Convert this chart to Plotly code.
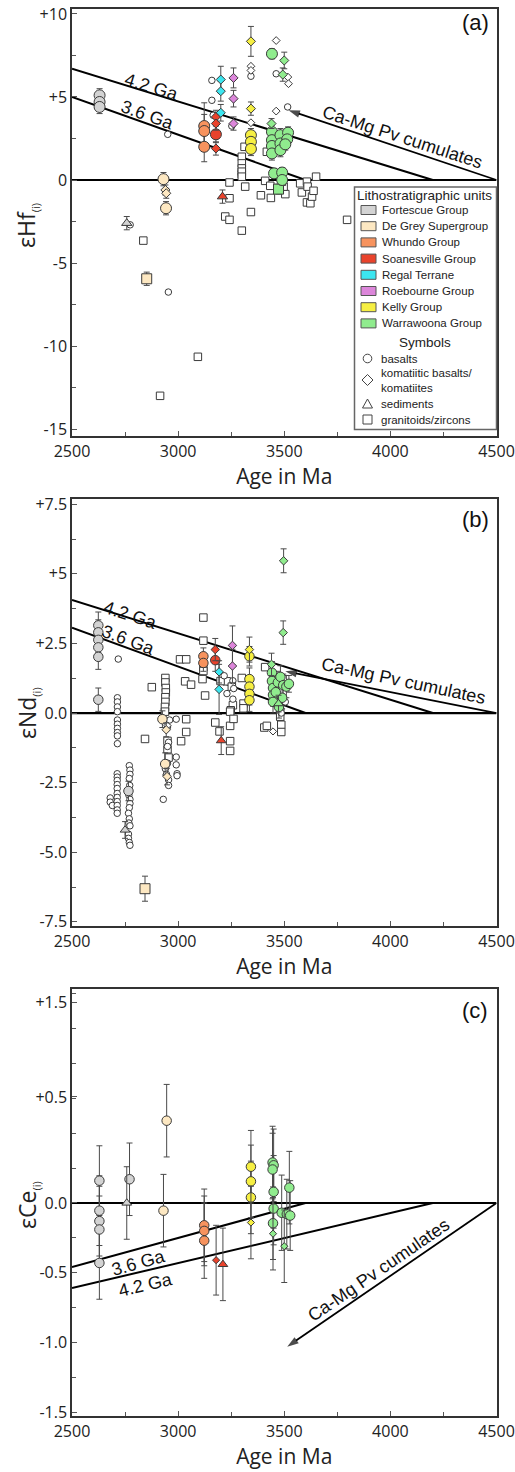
import plotly.graph_objects as go

W, H = 515, 1472

# ---------------- axis ticks ----------------
AGE_TICKS = [2500, 3000, 3500, 4000, 4500]
AGE_TICK_TEXT = ["2500", "3000", "3500", "4000", "4500"]
HF_TICKS = [10, 5, 0, -5, -10, -15]
HF_TICK_TEXT = ["+10", "+5", "0", "-5", "-10", "-15"]
ND_TICKS = [7.5, 5, 2.5, 0, -2.5, -5, -7.5]
ND_TICK_TEXT = ["+7.5", "+5", "+2.5", "0.0", "-2.5", "-5.0", "-7.5"]
CE_TICKS = [1.44, 0.76, 0, -0.5, -1.0, -1.5]
CE_TICK_TEXT = ["+1.5", "+0.5", "0.0", "-0.5", "-1.0", "-1.5"]

# ---------------- legend categories ----------------
UNITS = ["Fortescue Group", "De Grey Supergroup", "Whundo Group", "Soanesville Group",
         "Regal Terrane", "Roebourne Group", "Kelly Group", "Warrawoona Group"]
UNIT_COLORS = ["#d3d3d3", "#fde8c2", "#f7935e", "#e9432c", "#3ce6f0", "#dc86da", "#f6ef42", "#90ec8e"]
ROCK_TYPES = ["basalts", "komatiitic basalts/<br>komatiites", "sediments", "granitoids/zircons"]
ROCK_SYMBOLS = ["circle", "diamond", "triangle-up", "square"]

# ---------------- reference lines (age Ma, epsilon) ----------------
HF_LINE_42 = [(2500, 6.7), (4200, 0.0)]
HF_LINE_36 = [(2500, 5.0), (3600, 0.0)]
HF_PV_ARROW = [(4500, 0.0), (3520, 4.2)]
ND_LINE_42 = [(2500, 4.06), (4200, 0.0)]
ND_LINE_36 = [(2500, 3.07), (3600, 0.0)]
ND_PV_ARROW = [(4500, 0.0), (3505, 1.5)]
CE_LINE_36 = [(2500, -0.46), (3600, 0.0)]
CE_LINE_42 = [(2500, -0.61), (4200, 0.0)]
CE_PV_ARROW = [(4500, 0.0), (3514, -1.03)]
ZERO_LINE = [(2500, 0.0), (4500, 0.0)]

# ---------------- panel (a): eHf(i)  (age, value[, error]) ----------------
HF_OPEN_BASALT = [(2774, -2.7), (2951, 2.75), (2954, -6.75), (3159, 6.0), (3159, 4.8),
                  (3165, 3.9), (3253, 3.25), (3343, 6.25), (3462, 6.4), (3516, 4.4)]
HF_OPEN_KOMATIITE = [(3343, 6.85), (3343, 6.6), (3343, 3.45), (3462, 8.4), (3517, 6.2),
                     (3520, 5.8), (3462, 4.15)]
HF_OPEN_GRANITOID = [(2836, -3.65), (2915, -13.0), (3093, -10.65), (3222, -2.2), (3242, -2.4),
                     (3242, -1.1), (3300, -3.05), (3343, -1.93), (3242, -0.15), (3300, 1.4),
                     (3300, 1.0), (3300, 0.7), (3300, 0.35), (3300, 0.5), (3300, 0.2),
                     (3316, -0.4), (3313, 2.0), (3418, 1.7), (3390, -0.92), (3437, -1.08),
                     (3410, -0.05), (3434, -0.35), (3505, -0.85), (3497, -0.4), (3575, -0.2),
                     (3583, -0.75), (3607, -0.1), (3610, -0.4), (3607, -1.35), (3623, -1.4),
                     (3631, -1.0), (3638, -0.65), (3650, 0.2), (3796, -2.4), (3489, -0.1)]
HF_FORTESCUE_BASALT = [(2630, 5.1, 0.4), (2630, 4.7, 0.4), (2630, 4.4, 0.4)]
HF_FORTESCUE_SEDIMENT = [(2758, -2.6, 0.4)]
HF_DEGREY_BASALT = [(2931, 0.05, 0.4), (2943, -1.7, 0.4)]
HF_DEGREY_KOMATIITE = [(2940, -0.6, 0.3), (2944, -0.8, 0.3)]
HF_DEGREY_GRANITOID = [(2852, -5.95, 0.4)]
HF_WHUNDO_BASALT = [(3123, 3.25, 1.4), (3123, 2.95, 1.0), (3123, 2.0, 0.9)]
HF_SOANESVILLE_BASALT = [(3178, 2.75, 0.5)]
HF_SOANESVILLE_KOMATIITE = [(3178, 3.8, 0.4), (3178, 3.4, 0.4), (3178, 1.9, 0.4)]
HF_SOANESVILLE_SEDIMENT = [(3209, -1.0, 0.4)]
HF_REGAL_KOMATIITE = [(3201, 6.05, 0.8), (3201, 5.35, 0.6), (3201, 4.05, 0.5)]
HF_ROEBOURNE_KOMATIITE = [(3261, 6.15, 0.6), (3261, 4.9, 0.5), (3261, 3.4, 0.4)]
HF_KELLY_BASALT = [(3343, 2.7, 0.4), (3343, 2.3, 0.4), (3343, 1.87, 0.4)]
HF_KELLY_KOMATIITE = [(3343, 8.35, 0.9), (3343, 4.3, 0.4)]
HF_WARRAWOONA_BASALT = [(3442, 7.6, 0.3), (3442, 2.9, 0.4), (3442, 2.4, 0.4), (3442, 2.05, 0.4),
                        (3442, 1.6, 0.4), (3482, 2.7, 0.4), (3482, 2.2, 0.4), (3482, 1.8, 0.4),
                        (3518, 2.85, 0.35), (3514, 2.45, 0.35), (3505, 2.15, 0.35),
                        (3452, 0.4, 0.3), (3490, 0.45, 0.3), (3490, 0.0, 0.3)]
HF_WARRAWOONA_KOMATIITE = [(3500, 7.2, 0.5), (3493, 6.35, 0.4), (3440, 3.4, 0.3)]
HF_WARRAWOONA_GRANITOID = [(3473, -0.55, 0.3)]

# ---------------- panel (b): eNd(i) ----------------
ND_OPEN_BASALT = [(2718, 1.94), (2714, 0.55), (2714, 0.4), (2714, 0.22), (2714, 0.05), (2714, -0.25),
                  (2714, -0.4), (2714, -0.55), (2714, -0.7), (2714, -0.82), (2714, -1.1),
                  (2680, -3.05), (2680, -3.2), (2690, -3.32),
                  (2713, -2.18), (2713, -2.3), (2713, -2.42), (2713, -2.57), (2713, -2.71),
                  (2713, -2.89), (2713, -3.03), (2713, -3.18), (2713, -3.32), (2713, -3.48),
                  (2713, -3.6), (2770, -1.89), (2773, -2.05), (2773, -2.2), (2770, -2.35),
                  (2772, -2.6), (2768, -2.95), (2773, -3.1), (2773, -3.25), (2770, -3.4),
                  (2766, -3.6), (2770, -3.8), (2768, -3.95), (2773, -4.05), (2766, -4.35),
                  (2766, -4.5), (2770, -4.65), (2773, -4.75),
                  (2950, -0.5), (2955, -1.05), (2950, -1.2), (2950, -1.8), (2940, -2.0),
                  (2945, -2.2), (2955, -2.4), (2955, -2.6), (2930, -3.1),
                  (2991, -1.58), (2991, -1.86), (2995, -2.18), (2995, -2.25), (2991, -0.22),
                  (2960, -0.25), (3217, 1.34), (3258, 1.16), (3262, 0.88), (3230, 0.7),
                  (3258, 0.5), (3486, 0.0), (3505, 0.4)]
ND_OPEN_KOMATIITE = [(3447, -0.66), (2950, -0.45)]
ND_OPEN_GRANITOID = [(2844, -0.93), (2876, 0.93), (2940, 1.26), (2940, 1.1), (2942, 0.9),
                     (2942, 0.74), (2940, 0.57), (2940, 0.4), (2938, 0.22), (2938, 0.05),
                     (2950, -1.0), (2950, -1.3), (2955, -1.6), (3009, 1.93), (3038, 1.93),
                     (3033, 1.14), (3061, 1.02), (3038, -0.22), (3038, -0.68), (3014, -1.01),
                     (3119, 3.43), (3119, 2.6), (3119, 1.65), (3119, 1.51), (3115, 1.22),
                     (3127, 0.63), (3175, -0.34), (3195, -0.66), (3229, 1.14), (3253, 0.95),
                     (3258, 0.28), (3248, 0.1), (3245, 0.05), (3245, -0.46), (3245, -1.01),
                     (3245, -1.36), (3261, -0.21), (3300, 1.26), (3308, 0.34), (3308, 0.17),
                     (3410, 1.65), (3406, -0.52), (3418, -0.46), (3481, 0.05), (3481, -0.13),
                     (3486, -0.42), (3486, -0.68), (3200, 1.15)]
ND_FORTESCUE_BASALT = [(2624, 3.15, 0.48), (2624, 2.9, 0.45), (2624, 2.63, 0.45), (2624, 2.36, 0.45),
                       (2624, 2.02, 0.45), (2624, 0.48, 0.42), (2766, -2.8, 0.35)]
ND_FORTESCUE_SEDIMENT = [(2750, -4.2, 0.3)]
ND_DEGREY_BASALT = [(2926, -0.22, 0.3), (2939, -1.83, 0.4)]
ND_DEGREY_KOMATIITE = [(2944, -0.6, 0.25), (2948, -2.28, 0.3)]
ND_DEGREY_GRANITOID = [(2844, -6.31, 0.45)]
ND_WHUNDO_BASALT = [(3119, 2.04, 0.3), (3119, 1.8, 0.3)]
ND_SOANESVILLE_BASALT = [(3175, 1.9, 0.4)]
ND_SOANESVILLE_KOMATIITE = [(3175, 2.28, 0.4)]
ND_SOANESVILLE_SEDIMENT = [(3203, -0.99, 0.5)]
ND_REGAL_KOMATIITE = [(3193, 1.48, 0.4), (3193, 0.85, 0.9)]
ND_ROEBOURNE_KOMATIITE = [(3256, 2.43, 0.7), (3256, 1.69, 0.6)]
ND_KELLY_BASALT = [(3336, 2.04, 0.35), (3336, 1.22, 0.4), (3336, 0.95, 0.4), (3336, 0.69, 0.4),
                   (3336, 0.46, 0.4)]
ND_KELLY_KOMATIITE = [(3336, 2.28, 0.45)]
ND_WARRAWOONA_BASALT = [(3442, 1.45, 0.4), (3442, 1.15, 0.4), (3447, 0.9, 0.4), (3447, 0.65, 0.4),
                        (3447, 0.4, 0.4), (3470, 1.1, 0.4), (3482, 1.3, 0.4), (3495, 1.0, 0.4),
                        (3510, 0.95, 0.4), (3522, 1.05, 0.3), (3490, 0.55, 0.4), (3475, 0.22, 0.4),
                        (3460, 0.75, 0.4)]
ND_WARRAWOONA_KOMATIITE = [(3497, 5.47, 0.43), (3495, 2.89, 0.42), (3440, 1.75, 0.4)]
ND_WARRAWOONA_SEDIMENT = [(3473, 0.34, 0.3)]

# ---------------- panel (c): eCe(i) ----------------
CE_FORTESCUE_BASALT = [(2629, 0.16, 0.25), (2629, -0.055, 0.25), (2629, -0.13, 0.25),
                       (2629, -0.19, 0.24), (2629, -0.43, 0.26), (2771, 0.17, 0.26)]
CE_FORTESCUE_SEDIMENT = [(2758, 0.0, 0.26)]
CE_DEGREY_BASALT = [(2946, 0.59, 0.26), (2931, -0.055, 0.26)]
CE_WHUNDO_BASALT = [(3123, -0.16, 0.26), (3123, -0.2, 0.25), (3123, -0.27, 0.27)]
CE_SOANESVILLE_KOMATIITE = [(3179, -0.41, 0.25)]
CE_SOANESVILLE_SEDIMENT = [(3211, -0.44, 0.26)]
CE_KELLY_BASALT = [(3343, 0.26, 0.26), (3343, 0.155, 0.26), (3343, 0.04, 0.26)]
CE_KELLY_KOMATIITE = [(3343, -0.14, 0.26)]
CE_WARRAWOONA_BASALT = [(3445, 0.29, 0.26), (3450, 0.27, 0.26), (3445, 0.24, 0.26), (3450, 0.08, 0.26),
                        (3450, -0.04, 0.26), (3447, -0.145, 0.26), (3488, -0.07, 0.27),
                        (3512, -0.08, 0.25), (3528, -0.09, 0.25), (3524, 0.11, 0.26)]
CE_WARRAWOONA_KOMATIITE = [(3447, -0.22, 0.26), (3500, -0.31, 0.26)]

# ================= figure =================
XDOM = [72 / W, 496.5 / W]
YDOM = {"a": [1 - 436 / H, 1 - 9 / H], "b": [1 - 926 / H, 1 - 499 / H], "c": [1 - 1416 / H, 1 - 989 / H]}
AX = {"a": ("x", "y"), "b": ("x2", "y2"), "c": ("x3", "y3")}
SIZES = {
    "a": {"circle": 11, "diamond": 7, "triangle-up": 9, "square": 10, "o_circle": 6.5, "o_diamond": 6, "o_square": 7.5},
    "b": {"circle": 9.5, "diamond": 6.5, "triangle-up": 8.5, "square": 10, "o_circle": 6.5, "o_diamond": 5.5, "o_square": 7.5},
    "c": {"circle": 9.5, "diamond": 5.5, "triangle-up": 8.5, "square": 9, "o_circle": 6, "o_diamond": 5, "o_square": 7},
}
OUTLINE = "#3a3a3a"
ERRC = "#4a4a4a"

fig = go.Figure()


def add_line(panel, pts, width=2):
    xa, ya = AX[panel]
    fig.add_trace(go.Scatter(x=[p[0] for p in pts], y=[p[1] for p in pts], mode="lines",
                             line=dict(color="black", width=width), xaxis=xa, yaxis=ya,
                             showlegend=False, hoverinfo="skip"))


def add_arrow(panel, pts):
    xa, ya = AX[panel]
    fig.add_trace(go.Scatter(x=[p[0] for p in pts], y=[p[1] for p in pts], mode="lines+markers",
                             line=dict(color="black", width=1.8),
                             marker=dict(symbol="arrow", size=[0, 12], angleref="previous", color="black",
                                         line=dict(width=0)),
                             xaxis=xa, yaxis=ya, showlegend=False, hoverinfo="skip"))


def add_open(panel, data, symbol):
    xa, ya = AX[panel]
    fig.add_trace(go.Scatter(x=[d[0] for d in data], y=[d[1] for d in data], mode="markers",
                             marker=dict(symbol=symbol, size=SIZES[panel]["o_" + symbol.split("-")[0]],
                                         color="white", line=dict(color=OUTLINE, width=1)),
                             xaxis=xa, yaxis=ya, showlegend=False))


def add_unit(panel, data, unit, symbol):
    xa, ya = AX[panel]
    color = UNIT_COLORS[UNITS.index(unit)]
    fig.add_trace(go.Scatter(x=[d[0] for d in data], y=[d[1] for d in data], mode="markers",
                             name=unit,
                             error_y=dict(type="data", array=[d[2] for d in data], color=ERRC,
                                          thickness=1, width=3),
                             marker=dict(symbol=symbol, size=SIZES[panel][symbol], color=color,
                                         line=dict(color=OUTLINE, width=1)),
                             xaxis=xa, yaxis=ya, showlegend=False))


for p, l42, l36, arr in (("a", HF_LINE_42, HF_LINE_36, HF_PV_ARROW), ("b", ND_LINE_42, ND_LINE_36, ND_PV_ARROW),
                         ("c", CE_LINE_42, CE_LINE_36, CE_PV_ARROW)):
    add_line(p, ZERO_LINE, 2.2)
    add_line(p, l42, 2)
    add_line(p, l36, 2)
    add_arrow(p, arr)

# open symbols
add_open("a", HF_OPEN_GRANITOID, "square")
add_open("a", HF_OPEN_BASALT, "circle")
add_open("a", HF_OPEN_KOMATIITE, "diamond")
add_open("b", ND_OPEN_GRANITOID, "square")
add_open("b", ND_OPEN_BASALT, "circle")
add_open("b", ND_OPEN_KOMATIITE, "diamond")

# coloured symbols
SERIES = [
    ("a", HF_FORTESCUE_BASALT, "Fortescue Group", "circle"),
    ("a", HF_FORTESCUE_SEDIMENT, "Fortescue Group", "triangle-up"),
    ("a", HF_DEGREY_GRANITOID, "De Grey Supergroup", "square"),
    ("a", HF_DEGREY_BASALT, "De Grey Supergroup", "circle"),
    ("a", HF_DEGREY_KOMATIITE, "De Grey Supergroup", "diamond"),
    ("a", HF_WHUNDO_BASALT, "Whundo Group", "circle"),
    ("a", HF_SOANESVILLE_BASALT, "Soanesville Group", "circle"),
    ("a", HF_SOANESVILLE_KOMATIITE, "Soanesville Group", "diamond"),
    ("a", HF_SOANESVILLE_SEDIMENT, "Soanesville Group", "triangle-up"),
    ("a", HF_REGAL_KOMATIITE, "Regal Terrane", "diamond"),
    ("a", HF_ROEBOURNE_KOMATIITE, "Roebourne Group", "diamond"),
    ("a", HF_KELLY_BASALT, "Kelly Group", "circle"),
    ("a", HF_KELLY_KOMATIITE, "Kelly Group", "diamond"),
    ("a", HF_WARRAWOONA_GRANITOID, "Warrawoona Group", "square"),
    ("a", HF_WARRAWOONA_BASALT, "Warrawoona Group", "circle"),
    ("a", HF_WARRAWOONA_KOMATIITE, "Warrawoona Group", "diamond"),
    ("b", ND_FORTESCUE_BASALT, "Fortescue Group", "circle"),
    ("b", ND_FORTESCUE_SEDIMENT, "Fortescue Group", "triangle-up"),
    ("b", ND_DEGREY_GRANITOID, "De Grey Supergroup", "square"),
    ("b", ND_DEGREY_BASALT, "De Grey Supergroup", "circle"),
    ("b", ND_DEGREY_KOMATIITE, "De Grey Supergroup", "diamond"),
    ("b", ND_WHUNDO_BASALT, "Whundo Group", "circle"),
    ("b", ND_SOANESVILLE_BASALT, "Soanesville Group", "circle"),
    ("b", ND_SOANESVILLE_KOMATIITE, "Soanesville Group", "diamond"),
    ("b", ND_SOANESVILLE_SEDIMENT, "Soanesville Group", "triangle-up"),
    ("b", ND_REGAL_KOMATIITE, "Regal Terrane", "diamond"),
    ("b", ND_ROEBOURNE_KOMATIITE, "Roebourne Group", "diamond"),
    ("b", ND_KELLY_BASALT, "Kelly Group", "circle"),
    ("b", ND_KELLY_KOMATIITE, "Kelly Group", "diamond"),
    ("b", ND_WARRAWOONA_BASALT, "Warrawoona Group", "circle"),
    ("b", ND_WARRAWOONA_KOMATIITE, "Warrawoona Group", "diamond"),
    ("b", ND_WARRAWOONA_SEDIMENT, "Warrawoona Group", "triangle-up"),
    ("c", CE_FORTESCUE_BASALT, "Fortescue Group", "circle"),
    ("c", CE_FORTESCUE_SEDIMENT, "Fortescue Group", "triangle-up"),
    ("c", CE_DEGREY_BASALT, "De Grey Supergroup", "circle"),
    ("c", CE_WHUNDO_BASALT, "Whundo Group", "circle"),
    ("c", CE_SOANESVILLE_KOMATIITE, "Soanesville Group", "diamond"),
    ("c", CE_SOANESVILLE_SEDIMENT, "Soanesville Group", "triangle-up"),
    ("c", CE_KELLY_BASALT, "Kelly Group", "circle"),
    ("c", CE_KELLY_KOMATIITE, "Kelly Group", "diamond"),
    ("c", CE_WARRAWOONA_BASALT, "Warrawoona Group", "circle"),
    ("c", CE_WARRAWOONA_KOMATIITE, "Warrawoona Group", "diamond"),
]
for panel, data, unit, sym in SERIES:
    add_unit(panel, data, unit, sym)

# ---------------- axes ----------------
TICKFONT = dict(family="Open Sans", size=16, color="#222")
frame = dict(showline=True, linecolor="#333", linewidth=1.5, mirror=True, showgrid=False,
             zeroline=False, ticks="inside", ticklen=5, tickcolor="#555", tickfont=TICKFONT,
             automargin=False)
YRANGE = {"a": [-15.42, 10.3], "b": [-7.65, 7.69], "c": [-1.527, 1.534]}
YTICKS = {"a": (HF_TICKS, HF_TICK_TEXT, 2.5), "b": (ND_TICKS, ND_TICK_TEXT, 1.25), "c": (CE_TICKS, CE_TICK_TEXT, 0.25)}
for i, p in enumerate(["a", "b", "c"]):
    sfx = "" if i == 0 else str(i + 1)
    fig.layout["xaxis" + sfx] = dict(frame, domain=XDOM, range=[2500, 4500], anchor="y" + sfx,
                                     tickmode="array", tickvals=AGE_TICKS, ticktext=AGE_TICK_TEXT,
                                     minor=dict(ticks="inside", dtick=250, tick0=2500, ticklen=4, tickcolor="#555"),
                                     title=dict(text="Age in Ma", font=dict(family="Open Sans", size=21, color="#222"),
                                                standoff=4))
    tv, tt, mdt = YTICKS[p]
    fig.layout["yaxis" + sfx] = dict(frame, domain=YDOM[p], range=YRANGE[p], anchor="x" + sfx,
                                     tickmode="array", tickvals=tv, ticktext=tt,
                                     minor=dict(ticks="inside", dtick=mdt, tick0=0, ticklen=4, tickcolor="#555"))

ann = []
TXT = dict(family="Liberation Sans, Arial", size=18, color="#111")
SUB = "<sub><span style='font-size:11px'>(i)</span></sub>"
# y-axis titles
for ytxt, pyc in (("εHf" + SUB, 226), ("εNd" + SUB, 713), ("εCe" + SUB, 1205)):
    ann.append(dict(text=ytxt, x=27 / W, y=1 - pyc / H, xref="paper", yref="paper", textangle=-90,
                    showarrow=False, xanchor="center", yanchor="middle",
                    font=dict(family="Open Sans", size=23, color="#222")))
# panel labels
for lab, xa, ya, yy in (("(a)", "x", "y", 9.5), ("(b)", "x2", "y2", 6.94), ("(c)", "x3", "y3", 1.38)):
    ann.append(dict(text=lab, x=4400, y=yy, xref=xa, yref=ya, showarrow=False,
                    font=dict(family="Liberation Sans, Arial", size=22, color="#111")))
# line labels
LINE_LABELS = [
    ("4.2 Ga", "x", "y", 2876, 5.58, 17), ("3.6 Ga", "x", "y", 2855, 3.9, 20),
    ("Ca-Mg Pv cumulates", "x", "y", 4055, 2.6, 18),
    ("4.2 Ga", "x2", "y2", 2774, 3.53, 18), ("3.6 Ga", "x2", "y2", 2766, 2.63, 20.5),
    ("Ca-Mg Pv cumulates", "x2", "y2", 4063, 1.16, 12),
    ("3.6 Ga", "x3", "y3", 2811, -0.43, -15.7), ("4.2 Ga", "x3", "y3", 2844, -0.586, -13.4),
    ("Ca-Mg Pv cumulates", "x3", "y3", 3945, -0.48, -34.5),
]
for t, xa, ya, xx, yy, ang in LINE_LABELS:
    ann.append(dict(text=t, x=xx, y=yy, xref=xa, yref=ya, showarrow=False, textangle=ang, font=TXT))


# ---------------- custom legend (panel a) ----------------
def PX(x):
    return x / W


def PY(y):
    return 1 - y / H


shapes = [dict(type="rect", xref="paper", yref="paper", x0=PX(354.5), x1=PX(496.5), y0=PY(187), y1=PY(429.5),
               fillcolor="white", line=dict(color="#666", width=1.5), layer="above")]
LEG = dict(family="Liberation Sans, Arial", size=11.5, color="#222")
ann.append(dict(text="Lithostratigraphic units", x=PX(424), y=PY(196), xref="paper", yref="paper",
                showarrow=False, xanchor="center", yanchor="middle",
                font=dict(family="Liberation Sans, Arial", size=13.5, color="#222")))
for k, (u, c) in enumerate(zip(UNITS, UNIT_COLORS)):
    yc = 210 + k * 16.2
    shapes.append(dict(type="rect", xref="paper", yref="paper", x0=PX(361), x1=PX(376), y0=PY(yc + 4.5),
                       y1=PY(yc - 4.5), fillcolor=c, line=dict(color="#555", width=1), layer="above"))
    ann.append(dict(text=u, x=PX(380), y=PY(yc), xref="paper", yref="paper", showarrow=False,
                    xanchor="left", yanchor="middle", font=LEG))
ann.append(dict(text="Symbols", x=PX(425), y=PY(342), xref="paper", yref="paper", showarrow=False,
                xanchor="center", yanchor="middle", font=dict(family="Liberation Sans, Arial", size=13.5, color="#222")))
SYM_Y = [358.5, 380, 404, 419.5]
for lab, sym, yc in zip(ROCK_TYPES, ROCK_SYMBOLS, SYM_Y):
    cx = 367.5
    if sym == "circle":
        shapes.append(dict(type="circle", xref="paper", yref="paper", x0=PX(cx - 4.3), x1=PX(cx + 4.3),
                           y0=PY(yc + 4.3), y1=PY(yc - 4.3), line=dict(color="#444", width=1), layer="above"))
    elif sym == "diamond":
        path = (f"M {PX(cx)} {PY(yc - 5.5)} L {PX(cx + 5.5)} {PY(yc)} L {PX(cx)} {PY(yc + 5.5)} "
                f"L {PX(cx - 5.5)} {PY(yc)} Z")
        shapes.append(dict(type="path", xref="paper", yref="paper", path=path,
                           line=dict(color="#444", width=1), layer="above"))
    elif sym == "triangle-up":
        path = f"M {PX(cx)} {PY(yc - 5)} L {PX(cx + 5)} {PY(yc + 4)} L {PX(cx - 5)} {PY(yc + 4)} Z"
        shapes.append(dict(type="path", xref="paper", yref="paper", path=path,
                           line=dict(color="#444", width=1), layer="above"))
    else:
        shapes.append(dict(type="rect", xref="paper", yref="paper", x0=PX(cx - 4.5), x1=PX(cx + 4.5),
                           y0=PY(yc + 4.5), y1=PY(yc - 4.5), line=dict(color="#444", width=1), layer="above"))
    ann.append(dict(text=lab, x=PX(379), y=PY(yc), xref="paper", yref="paper", showarrow=False,
                    xanchor="left", yanchor="middle", align="left", font=LEG))

fig.update_layout(width=W, height=H, margin=dict(l=0, r=0, t=0, b=0), paper_bgcolor="white",
                  plot_bgcolor="white", showlegend=False, annotations=ann, shapes=shapes)
fig.write_html("out.html", config={"displayModeBar": False},
               post_script="document.body.style.margin='0px';")
